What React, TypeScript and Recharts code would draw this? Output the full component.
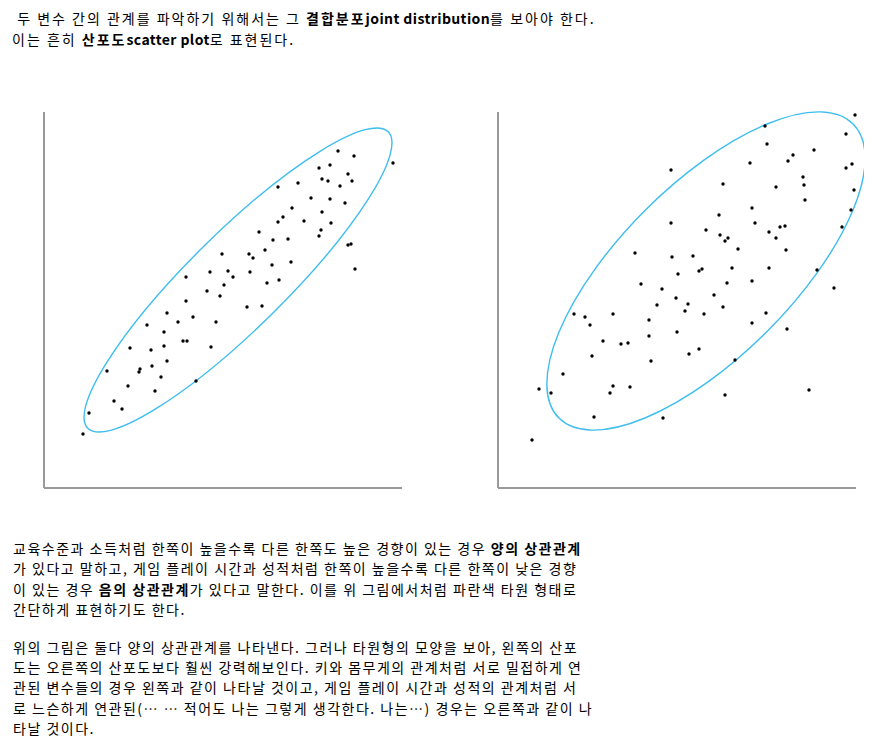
import { ScatterChart, Scatter, XAxis, YAxis } from 'recharts'

// values, in plot units (x from the y-axis, y up from the x-axis)
const leftPoints = [
  { x: 294, y: 337 }, { x: 310, y: 332 }, { x: 349, y: 325 }, { x: 286, y: 323 },
  { x: 275, y: 320 }, { x: 304, y: 314 }, { x: 278, y: 309 }, { x: 284, y: 307 },
  { x: 308, y: 307 }, { x: 254, y: 305 }, { x: 234, y: 301 }, { x: 296, y: 302 },
  { x: 267, y: 290 }, { x: 286, y: 289 }, { x: 301, y: 285 }, { x: 248, y: 280 },
  { x: 278, y: 276 }, { x: 239, y: 271 }, { x: 234, y: 266 }, { x: 260, y: 267 },
  { x: 287, y: 265 }, { x: 215, y: 256 }, { x: 277, y: 258 }, { x: 275, y: 252 },
  { x: 229, y: 248 }, { x: 244, y: 249 }, { x: 304, y: 243 }, { x: 307, y: 244 },
  { x: 178, y: 234 }, { x: 205, y: 234 }, { x: 209, y: 230 }, { x: 221, y: 238 },
  { x: 228, y: 223 }, { x: 247, y: 226 }, { x: 311, y: 219 }, { x: 166, y: 216 },
  { x: 184, y: 217 }, { x: 189, y: 211 }, { x: 206, y: 216 }, { x: 223, y: 205 },
  { x: 235, y: 208 }, { x: 180, y: 203 }, { x: 163, y: 197 }, { x: 176, y: 192 },
  { x: 203, y: 181 }, { x: 218, y: 182 }, { x: 172, y: 166 }, { x: 167, y: 141 },
  { x: 142, y: 211 }, { x: 142, y: 187 }, { x: 123, y: 175 }, { x: 134, y: 166 },
  { x: 149, y: 171 }, { x: 103, y: 163 }, { x: 120, y: 156 }, { x: 139, y: 147 },
  { x: 143, y: 147 }, { x: 86, y: 140 }, { x: 107, y: 138 }, { x: 120, y: 142 },
  { x: 123, y: 127 }, { x: 63, y: 117 }, { x: 96, y: 119 }, { x: 95, y: 116 },
  { x: 108, y: 122 }, { x: 117, y: 111 }, { x: 84, y: 102 }, { x: 111, y: 97 },
  { x: 152, y: 107 }, { x: 70, y: 87 }, { x: 78, y: 79 }, { x: 45, y: 75 },
  { x: 39, y: 54 },
]

const rightPoints = [
  { x: 173, y: 318 }, { x: 173, y: 265 }, { x: 137, y: 235 }, { x: 174, y: 231 },
  { x: 180, y: 214 }, { x: 143, y: 204 }, { x: 164, y: 199 }, { x: 178, y: 190 },
  { x: 357, y: 373 }, { x: 267, y: 362 }, { x: 348, y: 354 }, { x: 269, y: 344 },
  { x: 316, y: 338 }, { x: 295, y: 333 }, { x: 290, y: 327 }, { x: 252, y: 325 },
  { x: 354, y: 324 }, { x: 348, y: 320 }, { x: 305, y: 311 }, { x: 306, y: 303 },
  { x: 225, y: 304 }, { x: 278, y: 301 }, { x: 356, y: 298 }, { x: 307, y: 288 },
  { x: 254, y: 280 }, { x: 353, y: 278 }, { x: 221, y: 273 }, { x: 257, y: 265 },
  { x: 208, y: 258 }, { x: 282, y: 261 }, { x: 287, y: 262 }, { x: 344, y: 261 },
  { x: 271, y: 256 }, { x: 222, y: 253 }, { x: 230, y: 250 }, { x: 227, y: 247 },
  { x: 278, y: 250 }, { x: 240, y: 239 }, { x: 288, y: 238 }, { x: 195, y: 232 },
  { x: 201, y: 217 }, { x: 204, y: 219 }, { x: 234, y: 220 }, { x: 271, y: 220 },
  { x: 319, y: 218 }, { x: 229, y: 205 }, { x: 254, y: 207 }, { x: 336, y: 200 },
  { x: 216, y: 193 }, { x: 190, y: 184 }, { x: 187, y: 177 }, { x: 225, y: 181 },
  { x: 206, y: 174 }, { x: 268, y: 175 }, { x: 254, y: 165 }, { x: 289, y: 159 },
  { x: 179, y: 156 }, { x: 191, y: 134 }, { x: 201, y: 139 }, { x: 237, y: 128 },
  { x: 227, y: 93 }, { x: 311, y: 98 }, { x: 159, y: 183 }, { x: 76, y: 174 },
  { x: 87, y: 171 }, { x: 115, y: 174 }, { x: 92, y: 163 }, { x: 151, y: 168 },
  { x: 151, y: 152 }, { x: 105, y: 147 }, { x: 123, y: 144 }, { x: 130, y: 145 },
  { x: 94, y: 132 }, { x: 153, y: 127 }, { x: 65, y: 114 }, { x: 41, y: 99 },
  { x: 53, y: 95 }, { x: 115, y: 102 }, { x: 112, y: 95 }, { x: 132, y: 101 },
  { x: 96, y: 71 }, { x: 165, y: 70 }, { x: 34, y: 48 },
]

// ellipse centre, semi-axes (plot units) and tilt (degrees)
const leftEllipse = [{ x: 194, y: 208, a: 211, b: 48, angle: 44.6 }]
const rightEllipse = [{ x: 208, y: 217, a: 208, b: 86, angle: 45 }]

const xDomain = [0, 358]
const yDomain = [0, 376]
const PLOT_W = 358
const PLOT_H = 376

const kx = PLOT_W / (xDomain[1] - xDomain[0])
const ky = PLOT_H / (yDomain[1] - yDomain[0])

const renderEllipse = (props: any) => {
  const { cx, cy, payload } = props
  return (
    <ellipse
      cx={cx}
      cy={cy}
      rx={payload.a * kx}
      ry={payload.b * ky}
      transform={`rotate(${-payload.angle} ${cx} ${cy})`}
      fill="none"
      stroke="#3dbdf0"
      strokeWidth={1.4}
    />
  )
}

const renderDot = (props: any) => <circle cx={props.cx} cy={props.cy} r={1.7} fill="#000" />

const axisLine = { stroke: '#999', strokeWidth: 2 }

function Panel({ points, ellipse, left }: { points: any[]; ellipse: any[]; left: number }) {
  return (
    <div style={{ position: 'absolute', left, top: 0 }}>
      <ScatterChart width={410} height={500} margin={{ top: 112, right: 8, bottom: 10, left: 42 }}>
        <XAxis type="number" dataKey="x" domain={xDomain} tick={false} tickLine={false} axisLine={axisLine} height={2} />
        <YAxis type="number" dataKey="y" domain={yDomain} tick={false} tickLine={false} axisLine={axisLine} width={2} />
        <Scatter data={ellipse} shape={renderEllipse} isAnimationActive={false} />
        <Scatter data={points} shape={renderDot} isAnimationActive={false} />
      </ScatterChart>
    </div>
  )
}

const textStyle: React.CSSProperties = {
  position: 'absolute',
  fontFamily: "'Noto Sans CJK KR', sans-serif",
  fontSize: 14,
  letterSpacing: '1.5px',
  lineHeight: '20.4px',
  color: '#000',
  whiteSpace: 'pre',
  margin: 0,
}

const latin: React.CSSProperties = { letterSpacing: '0.4px' }

export default function App() {
  return (
    <div style={{ position: 'absolute', left: 0, top: 0, width: 888, height: 746, background: '#fff', overflow: 'hidden' }}>
      <div style={{ ...textStyle, left: 12, top: 8, lineHeight: '21px', letterSpacing: '2px' }}>
        {' 두 변수 간의 관계를 파악하기 위해서는 그 '}<b>결합분포<span style={latin}>joint distribution</span></b>{'를 보아야 한다.'}
        <br />
        {'이는 흔히 '}<b>산포도<span style={latin}>scatter plot</span></b>{'로 표현된다.'}
      </div>

      <Panel points={leftPoints} ellipse={leftEllipse} left={0} />
      <Panel points={rightPoints} ellipse={rightEllipse} left={454} />

      <div style={{ ...textStyle, left: 13, top: 538 }}>
        {'교육수준과 소득처럼 한쪽이 높을수록 다른 한쪽도 높은 경향이 있는 경우 '}<b>양의 상관관계</b>
        <br />
        {'가 있다고 말하고, 게임 플레이 시간과 성적처럼 한쪽이 높을수록 다른 한쪽이 낮은 경향'}
        <br />
        {'이 있는 경우 '}<b>음의 상관관계</b>{'가 있다고 말한다. 이를 위 그림에서처럼 파란색 타원 형태로'}
        <br />
        {'간단하게 표현하기도 한다.'}
      </div>

      <div style={{ ...textStyle, left: 13, top: 636.5 }}>
        {'위의 그림은 둘다 양의 상관관계를 나타낸다. 그러나 타원형의 모양을 보아, 왼쪽의 산포'}
        <br />
        {'도는 오른쪽의 산포도보다 훨씬 강력해보인다. 키와 몸무게의 관계처럼 서로 밀접하게 연'}
        <br />
        {'관된 변수들의 경우 왼쪽과 같이 나타날 것이고, 게임 플레이 시간과 성적의 관계처럼 서'}
        <br />
        {'로 느슨하게 연관된(… … 적어도 나는 그렇게 생각한다. 나는…) 경우는 오른쪽과 같이 나'}
        <br />
        {'타날 것이다.'}
      </div>
    </div>
  )
}
